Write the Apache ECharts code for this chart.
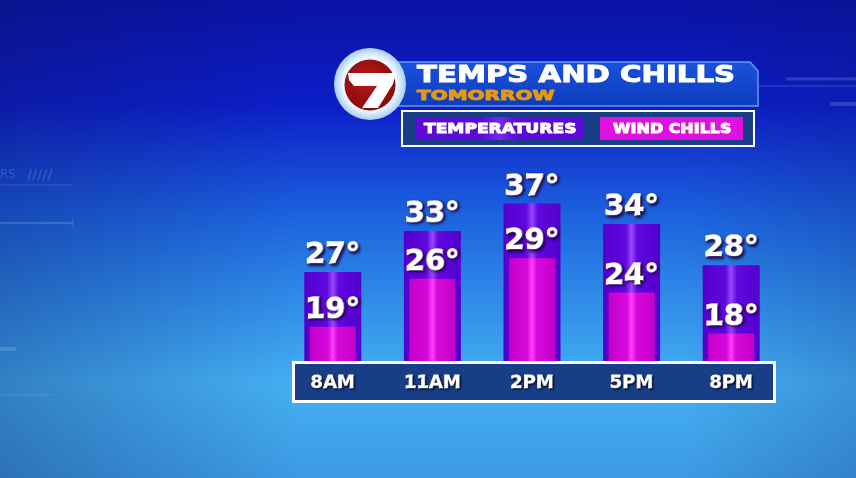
<!DOCTYPE html>
<html>
<head>
<meta charset="utf-8">
<script src="https://cdn.jsdelivr.net/npm/echarts@6/dist/echarts.min.js"></script>
<style>html,body{margin:0;padding:0;background:#1040c0;}#c{width:856px;height:478px;}</style>
</head>
<body>
<div id="c"></div>
<script>
const categories = ['8AM', '11AM', '2PM', '5PM', '8PM'];
const temperatures = [27, 33, 37, 34, 28];
const windChills = [19, 26, 29, 24, 18];
const titleText = 'TEMPS AND CHILLS';
const subtitleText = 'TOMORROW';
const legendNames = ['TEMPERATURES', 'WIND CHILLS'];

const FONT = '"DejaVu Sans", "Liberation Sans", sans-serif';

function hGrad(edge, mid, center) {
  return {
    type: 'linear', x: 0, y: 0, x2: 1, y2: 0,
    colorStops: [
      { offset: 0, color: edge },
      { offset: 0.4, color: mid },
      { offset: 0.5, color: center },
      { offset: 0.6, color: mid },
      { offset: 1, color: edge }
    ]
  };
}
const purpleFill = hGrad('#5200cc', '#6008e0', '#9848ff');
const magentaFill = hGrad('#c400c8', '#d808dc', '#ff40ff');

const labelStyle = {
  show: true,
  position: 'top',
  distance: 2,
  formatter: '{c}°',
  color: '#ffffff',
  fontFamily: FONT,
  fontWeight: 'bold',
  fontSize: 29,
  textBorderColor: '#ffffff',
  textBorderWidth: 1.4,
  textShadowColor: 'rgba(25,0,60,0.95)',
  textShadowBlur: 3,
  textShadowOffsetX: 1.5,
  textShadowOffsetY: 1.5
};

function txt(text, x, y, size, sx, color, z) {
  return {
    type: 'text', x: x, y: y, scaleX: sx, z: z || 20,
    style: {
      text: text, fill: color,
      font: 'bold ' + size + 'px ' + FONT,
      textAlign: 'left', align: 'left',
      textVerticalAlign: 'middle', verticalAlign: 'middle',
      shadowColor: 'rgba(0,0,40,0.85)',
      shadowBlur: 2, shadowOffsetX: 1, shadowOffsetY: 1,
      stroke: color, lineWidth: 1
    }
  };
}

const faint = 'rgba(200,225,255,0.18)';
const graphics = [
  // background
  { type: 'rect', z: -10, shape: { x: 0, y: 0, width: 856, height: 478 },
    style: { fill: { type: 'linear', x: 0, y: 0, x2: 0, y2: 1, colorStops: [
      { offset: 0, color: '#0a12a4' },
      { offset: 0.22, color: '#0c1ec8' },
      { offset: 0.45, color: '#1c62de' },
      { offset: 0.62, color: '#2f8ae8' },
      { offset: 0.8, color: '#44b0f2' },
      { offset: 1, color: '#3c9ae2' } ] } } },
  { type: 'rect', z: -9, shape: { x: 0, y: 0, width: 856, height: 478 },
    style: { fill: { type: 'linear', x: 0, y: 0, x2: 1, y2: 0, colorStops: [
      { offset: 0, color: 'rgba(10,20,90,0.30)' },
      { offset: 0.35, color: 'rgba(10,20,90,0)' },
      { offset: 0.8, color: 'rgba(10,20,90,0)' },
      { offset: 1, color: 'rgba(10,20,90,0.18)' } ] } } },
  // faint HUD decorations
  { type: 'line', z: -8, shape: { x1: 0, y1: 185, x2: 72, y2: 185 }, style: { stroke: faint, lineWidth: 1 } },
  { type: 'line', z: -8, shape: { x1: 0, y1: 223, x2: 73, y2: 223 }, style: { stroke: faint, lineWidth: 2 } },
  { type: 'line', z: -8, shape: { x1: 73, y1: 217, x2: 73, y2: 229 }, style: { stroke: faint, lineWidth: 1 } },
  { type: 'line', z: -8, shape: { x1: 0, y1: 395, x2: 52, y2: 395 }, style: { stroke: faint, lineWidth: 1 } },
  { type: 'line', z: -8, shape: { x1: 0, y1: 349, x2: 16, y2: 349 }, style: { stroke: faint, lineWidth: 4 } },
  { type: 'line', z: -8, shape: { x1: 786, y1: 79, x2: 856, y2: 79 }, style: { stroke: faint, lineWidth: 3 } },
  { type: 'line', z: -8, shape: { x1: 830, y1: 104, x2: 856, y2: 104 }, style: { stroke: faint, lineWidth: 4 } },
  { type: 'line', z: -8, shape: { x1: 758, y1: 86, x2: 856, y2: 86 }, style: { stroke: 'rgba(200,225,255,0.25)', lineWidth: 1 } },
  { type: 'text', z: -8, x: 0, y: 175, style: { text: 'RS', fill: faint, font: '12px ' + FONT, verticalAlign: 'middle', textVerticalAlign: 'middle' } },
  { type: 'text', z: -8, x: 27, y: 175, style: { text: '/////', fill: faint, font: 'bold 14px ' + FONT, verticalAlign: 'middle', textVerticalAlign: 'middle' } },

  // x-axis box
  { type: 'rect', z: 5, shape: { x: 293.5, y: 362.5, width: 481, height: 39 },
    style: { fill: '#173e86', stroke: '#ffffff', lineWidth: 3 } },

  // title banner
  { type: 'polygon', z: 10, shape: { points: [[396, 62], [750, 62], [758, 71], [758, 106], [396, 106]] },
    style: { fill: { type: 'linear', x: 0, y: 0, x2: 0, y2: 1, colorStops: [
      { offset: 0, color: '#1a52dc' }, { offset: 1, color: '#0c3cbc' } ] },
      stroke: '#6a96ea', lineWidth: 1.5 } },
  txt(titleText, 417, 76, 23, 1.27, '#ffffff'),
  txt(subtitleText, 417, 96, 14.5, 1.38, '#e39a12'),

  // legend box
  { type: 'rect', z: 10, shape: { x: 402, y: 111, width: 352, height: 35 },
    style: { fill: '#173e86', stroke: '#ffffff', lineWidth: 2 } },
  { type: 'rect', z: 11, shape: { x: 416, y: 117, width: 167, height: 23 },
    style: { fill: hGrad('#5a0ad4', '#5c0cd8', '#7428f0') } },
  { type: 'rect', z: 11, shape: { x: 600, y: 117, width: 143, height: 23 },
    style: { fill: '#e010e0' } },
  txt(legendNames[0], 424, 129, 14.5, 1.18, '#ffffff'),
  txt(legendNames[1], 613, 129, 14.5, 1.1, '#ffffff'),

  // logo
  { type: 'circle', z: 15, shape: { cx: 370, cy: 84, r: 36 },
    style: { fill: { type: 'radial', x: 0.5, y: 0.5, r: 0.5, colorStops: [
      { offset: 0, color: '#ffffff' }, { offset: 0.75, color: '#f0f8ff' }, { offset: 1, color: '#a8cdf2' } ] } } },
  { type: 'circle', z: 16, shape: { cx: 370, cy: 85, r: 25.5 },
    style: { fill: { type: 'radial', x: 0.45, y: 0.4, r: 0.6, colorStops: [
      { offset: 0, color: '#b81818' }, { offset: 1, color: '#8a0a0a' } ] } } },
  { type: 'polygon', z: 17, shape: { points: [[348, 73], [396, 73], [393, 84], [378, 108], [362, 108], [377, 86], [354, 86], [349, 80]] },
    style: { fill: '#ffffff' } }
];

const chart = echarts.init(document.getElementById('c'), null, { renderer: 'canvas' });
chart.setOption({
  animation: false,
  backgroundColor: '#1040c0',
  grid: { left: 283, right: 75, top: 183, bottom: 117 },
  xAxis: [
    { type: 'category', data: categories, z: 30,
      axisLine: { show: false }, axisTick: { show: false }, splitLine: { show: false },
      axisLabel: { color: '#ffffff', fontFamily: FONT, fontWeight: 'bold', fontSize: 18, margin: 13,
        textBorderColor: '#ffffff', textBorderWidth: 0.8,
        textShadowColor: 'rgba(0,0,30,0.9)', textShadowBlur: 2, textShadowOffsetX: 1, textShadowOffsetY: 1 } },
    { type: 'category', data: categories, show: false }
  ],
  yAxis: { type: 'value', min: 14, max: 40, show: false, splitLine: { show: false } },
  series: [
    { name: legendNames[0], type: 'bar', xAxisIndex: 0, data: temperatures, barWidth: 57, z: 2,
      itemStyle: { color: purpleFill }, label: labelStyle },
    { name: legendNames[1], type: 'bar', xAxisIndex: 1, data: windChills, barWidth: 46, z: 3,
      itemStyle: { color: magentaFill }, label: labelStyle }
  ],
  graphic: { elements: graphics }
});
</script>
</body>
</html>
